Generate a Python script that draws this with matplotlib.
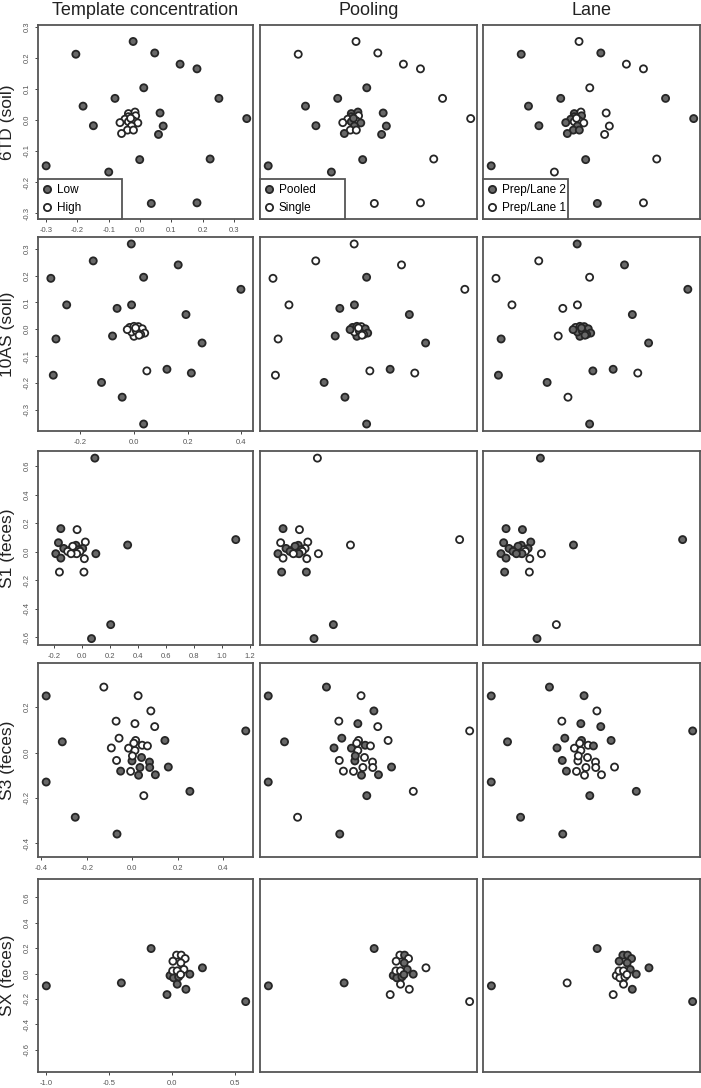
import numpy as np
import matplotlib
matplotlib.use("Agg")
import matplotlib.pyplot as plt
from matplotlib.lines import Line2D

plt.rcParams['font.family'] = ['Liberation Sans', 'DejaVu Sans']
plt.rcParams['axes.unicode_minus'] = False

# column factors: 1 = filled marker, 0 = open marker
col_titles = ["Template concentration", "Pooling", "Lane"]
legend_labels = [["Low", "High"], ["Pooled", "Single"], ["Prep/Lane 2", "Prep/Lane 1"]]

# ---- 6TD (soil)
x_6td = [-0.022, -0.205, 0.047, 0.128, 0.182, 0.012, -0.080, 0.252, -0.182, 0.064,
         0.341, -0.149, 0.074, 0.059, -0.300, -0.001, 0.224, -0.100, 0.036, 0.182,
         -0.037, -0.016, -0.014, -0.037, -0.048, -0.064, -0.037, -0.021, -0.007, -0.027,
         -0.040, -0.021, -0.059, -0.030]
y_6td = [0.252, 0.211, 0.215, 0.179, 0.164, 0.103, 0.069, 0.069, 0.044, 0.022,
         0.004, -0.019, -0.020, -0.047, -0.148, -0.128, -0.126, -0.168, -0.269, -0.267,
         0.020, 0.025, 0.013, 0.010, 0.002, -0.009, -0.006, -0.003, -0.010, -0.020,
         -0.033, -0.033, -0.044, 0.005]
conc_6td = [1] * 20 + [0] * 14
pool_6td = [0, 0, 0, 0, 0, 1, 1, 0, 1, 1, 0, 1, 1, 1, 1, 1, 0, 1, 0, 0,
            1, 1, 0, 1, 0, 0, 1, 0, 1, 1, 0, 0, 1, 1]
lane_6td = [0, 1, 1, 0, 0, 0, 1, 1, 1, 0, 1, 1, 0, 0, 1, 1, 0, 0, 1, 0,
            1, 0, 1, 1, 1, 1, 0, 0, 0, 1, 1, 1, 1, 0]

# ---- 10AS (soil)
x_10as = [-0.010, -0.152, 0.165, -0.310, 0.036, 0.399, -0.251, -0.063, -0.009, 0.194,
          -0.291, -0.080, 0.254, -0.301, 0.123, 0.214, -0.121, -0.044, 0.036, 0.048,
          -0.016, 0.000, 0.016, 0.031, 0.040, 0.025, 0.000, -0.009, 0.009, 0.019,
          -0.025, 0.006]
y_10as = [0.318, 0.255, 0.240, 0.190, 0.194, 0.149, 0.091, 0.078, 0.091, 0.055,
          -0.036, -0.025, -0.051, -0.171, -0.149, -0.163, -0.198, -0.253, -0.353, -0.155,
          0.007, 0.011, 0.010, 0.002, -0.014, -0.019, -0.026, -0.010, -0.006, -0.022,
          -0.001, 0.005]
conc_10as = [1] * 19 + [0] + [0] * 12
pool_10as = [0, 0, 0, 0, 1, 0, 0, 1, 1, 1, 0, 1, 1, 0, 1, 0, 1, 1, 1, 0,
             1, 1, 0, 1, 1, 0, 1, 0, 1, 0, 1, 0]
lane_10as = [1, 0, 1, 0, 0, 1, 0, 0, 0, 1, 1, 0, 1, 1, 1, 0, 1, 0, 1, 1,
             0, 1, 1, 1, 1, 1, 1, 1, 1, 1, 1, 1]

# ---- S1 (feces)
x_s1 = [0.092, -0.151, -0.168, -0.187, -0.151, -0.130, 1.098, 0.326, 0.099, 0.205,
        0.068, -0.035, 0.024, -0.161, 0.014, 0.017,
        -0.043, 0.005, -0.054, -0.024, -0.090, -0.066, -0.102, -0.014, -0.038, -0.078]
y_s1 = [0.657, 0.162, 0.063, -0.014, -0.045, 0.023, 0.085, 0.047, -0.014, -0.512,
        -0.610, 0.155, 0.068, -0.143, -0.143, -0.049,
        0.045, 0.023, -0.009, 0.014, 0.009, 0.038, 0.002, 0.002, -0.014, -0.014]
conc_s1 = [1] * 11 + [0] * 5 + [1, 1, 1, 1, 0, 0, 0, 0, 0, 0]
pool_s1 = [0, 1, 0, 1, 0, 1, 0, 0, 0, 1, 1, 0, 0, 1, 1, 0,
           1, 0, 1, 1, 1, 1, 1, 0, 1, 0]
lane_s1 = [1, 1, 1, 1, 1, 1, 1, 1, 0, 0, 1, 1, 1, 1, 0, 0,
           1, 1, 1, 0, 1, 1, 1, 0, 1, 1]

# ---- S3 (feces)
x_s3 = [-0.379, -0.308, -0.379, -0.251, -0.067, 0.500, 0.254, 0.144, -0.001, 0.041,
        0.076, -0.051, 0.034, 0.077, 0.159, 0.028, 0.102,
        -0.125, 0.026, 0.082, -0.071, 0.012, 0.099, -0.058, -0.092, -0.016, 0.012,
        0.015, 0.007, 0.044, 0.067, 0.001, -0.069, -0.007, 0.051]
y_s3 = [0.249, 0.047, -0.130, -0.285, -0.359, 0.095, -0.171, 0.053, -0.037, -0.022,
        -0.042, -0.082, -0.066, -0.066, -0.064, -0.100, -0.098,
        0.288, 0.250, 0.183, 0.138, 0.127, 0.114, 0.063, 0.020, 0.019, 0.009,
        0.053, 0.041, 0.032, 0.029, -0.015, -0.035, -0.083, -0.190]
conc_s3 = [1] * 17 + [0] * 18
pool_s3 = [1, 1, 1, 0, 1, 0, 0, 0, 1, 0, 0, 0, 0, 0, 1, 1, 1,
           1, 0, 1, 0, 1, 0, 1, 1, 1, 0, 0, 0, 1, 0, 1, 0, 0, 1]
lane_s3 = [1, 1, 1, 1, 1, 1, 1, 1, 0, 0, 0, 1, 0, 0, 0, 0, 0,
           1, 1, 0, 0, 1, 1, 1, 1, 0, 0, 1, 0, 0, 1, 0, 1, 0, 1]

# ---- SX (feces)
x_sx = [-0.999, -0.404, -0.168, -0.042, 0.239, 0.582, 0.139, 0.108, 0.039, -0.018,
        0.010, 0.050, 0.034, 0.071, 0.102, 0.005, 0.068, 0.092, 0.003, 0.039, 0.066]
y_sx = [-0.097, -0.074, 0.197, -0.166, 0.045, -0.221, -0.005, -0.124, -0.084, -0.016,
        -0.034, -0.026, 0.145, 0.145, 0.118, 0.097, 0.084, 0.032, 0.021, 0.021, -0.008]
conc_sx = [1] * 12 + [0] * 9
pool_sx = [1, 1, 1, 0, 0, 0, 1, 0, 0, 1, 1, 1, 0, 1, 0, 0, 1, 1, 0, 0, 1]
lane_sx = [1, 0, 1, 0, 1, 1, 1, 1, 0, 0, 0, 0, 1, 1, 1, 1, 1, 1, 0, 0, 0]

rows = [
    ("6TD (soil)", x_6td, y_6td, [conc_6td, pool_6td, lane_6td],
     (-0.326, 0.361), (-0.319, 0.305), np.arange(-0.3, 0.31, 0.1), np.arange(-0.3, 0.31, 0.1)),
    ("10AS (soil)", x_10as, y_10as, [conc_10as, pool_10as, lane_10as],
     (-0.358, 0.444), (-0.379, 0.344), np.arange(-0.2, 0.41, 0.2), np.arange(-0.3, 0.31, 0.1)),
    ("S1 (feces)", x_s1, y_s1, [conc_s1, pool_s1, lane_s1],
     (-0.314, 1.221), (-0.655, 0.707), np.arange(-0.2, 1.21, 0.2), np.arange(-0.6, 0.61, 0.2)),
    ("S3 (feces)", x_s3, y_s3, [conc_s3, pool_s3, lane_s3],
     (-0.415, 0.532), (-0.460, 0.394), np.arange(-0.4, 0.41, 0.2), np.arange(-0.4, 0.21, 0.2)),
    ("SX (feces)", x_sx, y_sx, [conc_sx, pool_sx, lane_sx],
     (-1.065, 0.640), (-0.776, 0.745), np.arange(-1.0, 0.51, 0.5), np.arange(-0.6, 0.61, 0.2)),
]

W, H = 701, 1088
col_px = [(38, 253), (260, 477), (483, 700)]
row_px = [(25, 219), (237, 431), (451, 645), (663, 857), (879, 1072)]

FILL = '#686868'
EDGE = '#262626'
FRAME = '#555555'

fig = plt.figure(figsize=(W / 100, H / 100), dpi=100)

for r, (name, xs, ys, flags, xlim, ylim, xt, yt) in enumerate(rows):
    top, bot = row_px[r]
    for c in range(3):
        left, right = col_px[c]
        ax = fig.add_axes([left / W, 1 - bot / H, (right - left) / W, (bot - top) / H])
        fc = [FILL if f else 'white' for f in flags[c]]
        ax.scatter(xs, ys, s=26, c=fc, edgecolors=EDGE, linewidths=1.3, zorder=3)
        ax.set_xlim(*xlim)
        ax.set_ylim(*ylim)
        for sp in ax.spines.values():
            sp.set_color(FRAME)
            sp.set_linewidth(1.3)
        if c == 0:
            ax.set_xticks(xt)
            ax.set_yticks(yt)
            ax.set_xticklabels(['%.1f' % v for v in xt])
            ax.set_yticklabels(['%.1f' % v for v in yt], rotation=90, va='center')
            ax.tick_params(direction='out', length=2.5, width=0.7, colors='#444444',
                           labelsize=5.5, pad=3, labelcolor='#555555')
            ax.set_ylabel(name, fontsize=12.5, color='#222222', va='center')
            ax.yaxis.set_label_coords(-0.14, 0.5)
        else:
            ax.set_xticks([])
            ax.set_yticks([])
        if r == 0:
            ax.set_title(col_titles[c], fontsize=13, pad=7, color='#222222')
            handles = [Line2D([], [], ls='none', marker='o', ms=5.2, mfc=FILL, mec=EDGE, mew=1.3),
                       Line2D([], [], ls='none', marker='o', ms=5.2, mfc='white', mec=EDGE, mew=1.3)]
            leg = ax.legend(handles, legend_labels[c], loc='lower left',
                            bbox_to_anchor=(0, 0, 0.39, 0.19), mode='expand',
                            borderaxespad=0, fancybox=False, framealpha=1,
                            edgecolor=FRAME, fontsize=8.5, handlelength=0.8,
                            handletextpad=0.4, labelspacing=0.55, borderpad=0.4)
            leg.get_frame().set_linewidth(1.3)
            leg.set_zorder(5)

fig.savefig('out.png', dpi=100)
